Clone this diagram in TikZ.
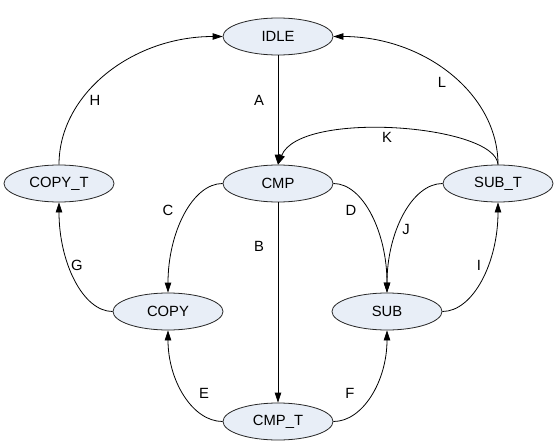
\documentclass[tikz,border=0pt]{standalone}
\usepackage{fontspec}
\setmainfont{Liberation Sans}
\usetikzlibrary{shapes.geometric,arrows.meta,calc}
\definecolor{statefill}{RGB}{232,238,247}
\tikzset{
  state/.style={ellipse, draw=black!85, fill=statefill, line width=0.8pt,
    minimum width=110pt, minimum height=37pt, inner sep=0pt,
    font=\fontsize{14.8}{16}\selectfont},
  lbl/.style={font=\fontsize{14.8}{16}\selectfont, inner sep=0pt},
  edge/.style={draw=black, line width=0.8pt, -{Triangle[length=10pt,width=6.5pt]}},
}
\begin{document}
\begin{tikzpicture}[x=1pt,y=-1pt]
\useasboundingbox (0,0) rectangle (557,444);
% states
\node[state] (idle) at (278,36.5) {IDLE};
\node[state] (cmp)  at (278,183.5) {CMP};
\node[state] (ct)   at (59,183.5) {COPY\_T};
\node[state] (st)   at (498,183.5) {SUB\_T};
\node[state] (copy) at (168,311.5) {COPY};
\node[state] (sub)  at (387,311.5) {SUB};
\node[state] (cmpt) at (278,421.5) {CMP\_T};
% straight edges
\draw[edge] (idle.south) -- (cmp.north);
\draw[edge] (cmp.south) -- (cmpt.north);
% quarter-ellipse curves
\draw[edge] (cmp.west) .. controls ($(cmp.west)!0.552!(copy.north |- cmp.west)$)
  and ($(copy.north)!0.552!(copy.north |- cmp.west)$) .. (copy.north);
\draw[edge] (cmp.east) .. controls ($(cmp.east)!0.552!(sub.north |- cmp.east)$)
  and ($(sub.north)!0.552!(sub.north |- cmp.east)$) .. (sub.north);
\draw[edge] (st.west) .. controls ($(st.west)!0.552!(sub.north |- st.west)$)
  and ($(sub.north)!0.552!(sub.north |- st.west)$) .. (sub.north);
\draw[edge] (sub.east) .. controls ($(sub.east)!0.552!(st.south |- sub.east)$)
  and ($(st.south)!0.552!(st.south |- sub.east)$) .. (st.south);
\draw[edge] (cmpt.east) .. controls ($(cmpt.east)!0.552!(sub.south |- cmpt.east)$)
  and ($(sub.south)!0.552!(sub.south |- cmpt.east)$) .. (sub.south);
\draw[edge] (cmpt.west) .. controls ($(cmpt.west)!0.552!(copy.south |- cmpt.west)$)
  and ($(copy.south)!0.552!(copy.south |- cmpt.west)$) .. (copy.south);
\draw[edge] (copy.west) .. controls ($(copy.west)!0.552!(ct.south |- copy.west)$)
  and ($(ct.south)!0.552!(ct.south |- copy.west)$) .. (ct.south);
\draw[edge] (ct.north) .. controls ($(ct.north)!0.552!(ct.north |- idle.west)$)
  and ($(idle.west)!0.552!(ct.north |- idle.west)$) .. (idle.west);
\draw[edge] (st.north) .. controls ($(st.north)!0.552!(st.north |- idle.east)$)
  and ($(idle.east)!0.552!(st.north |- idle.east)$) .. (idle.east);
\draw[edge] (st.north) .. controls ($(st.north)+(-2,-40)$) and ($(cmp.north)+(22,-55)$) .. (cmp.north);
% labels
\node[lbl] (lA) at (259,100) {A};
\node[lbl] (lB) at (259,246) {B};
\node[lbl] (lC) at (168,210) {C};
\node[lbl] (lD) at (351,210) {D};
\node[lbl] (lE) at (204,393) {E};
\node[lbl] (lF) at (350,393) {F};
\node[lbl] (lG) at (77,265) {G};
\node[lbl] (lH) at (95,100) {H};
\node[lbl] (lI) at (479,265) {I};
\node[lbl] (lJ) at (406,229) {J};
\node[lbl] (lK) at (387,137) {K};
\node[lbl] (lL) at (442,82) {L};
\end{tikzpicture}
\end{document}
